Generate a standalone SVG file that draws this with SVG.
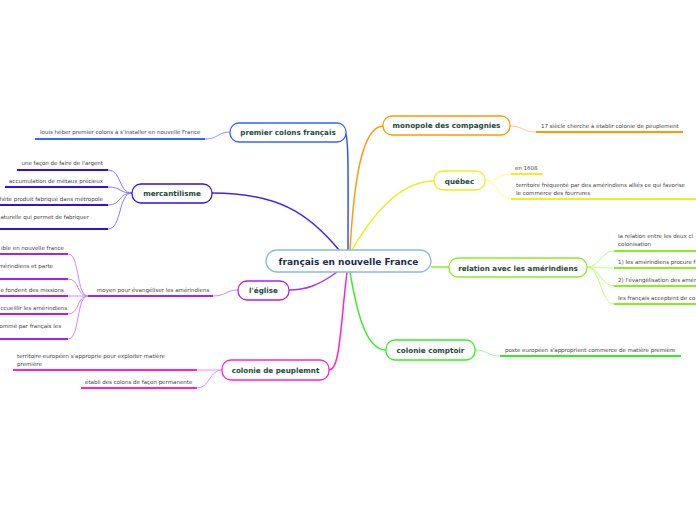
<svg xmlns="http://www.w3.org/2000/svg" width="696" height="520" viewBox="0 0 696 520">
<style>
.bg{fill:#ffffff}
.node rect{fill:#ffffff;stroke-width:1.3}
.node text{font-family:"DejaVu Sans",Verdana,sans-serif;font-weight:bold;font-size:7.2px;fill:#1d4a3e;text-anchor:middle}
.center text{font-size:9px;fill:#1c2c4c}
.leaf{font-family:"DejaVu Sans",Verdana,sans-serif;font-size:5.5px;fill:#444444}
.end{text-anchor:end}
.ul{stroke-width:2;fill:none}
.c{fill:none;stroke-width:1.5}
.lc{fill:none;stroke-width:1}
</style>
<rect class="bg" x="0" y="0" width="696" height="520"/>
<g id="connectors">
  <path class="c" stroke="#3355ee" d="M348,250 C348,180 349,136 345,132"/>
  <path class="c" stroke="#4422ee" d="M212,193 C280,193 310,215 339,250"/>
  <path class="c" stroke="#ff9911" d="M350,250 C354,180 362,127 383,126"/>
  <path class="c" stroke="#eeee22" d="M352,250 C382,198 410,181 434,181"/>
  <path class="c" stroke="#88ee22" d="M431,267 L449,267"/>
  <path class="c" stroke="#33ee22" d="M350,272 C358,320 368,350 386,350"/>
  <path class="c" stroke="#ff22cc" d="M347,272 C340,330 340,370 329,370"/>
  <path class="c" stroke="#aa33ee" d="M337,272 C318,286 305,290 289,290"/>
  <path class="lc" stroke="#8899ff" d="M230,132 C218,132 218,139 205,139"/>
  <path class="lc" stroke="#8877ff" d="M132,193 C118,193 122,170 108,170"/>
  <path class="lc" stroke="#8877ff" d="M132,193 C118,193 122,187 108,187"/>
  <path class="lc" stroke="#8877ff" d="M132,193 C118,193 122,205 108,205"/>
  <path class="lc" stroke="#8877ff" d="M132,193 C118,193 122,229 108,229"/>
  <path class="lc" stroke="#cc88ff" d="M238,290 C226,290 226,296 213,296"/>
  <path class="lc" stroke="#cc88ff" d="M88,296 C76,296 80,254 68,254"/>
  <path class="lc" stroke="#cc88ff" d="M88,296 C76,296 80,279 68,279"/>
  <path class="lc" stroke="#cc88ff" d="M88,296 C76,296 80,296 68,296"/>
  <path class="lc" stroke="#cc88ff" d="M88,296 C76,296 80,314 68,314"/>
  <path class="lc" stroke="#cc88ff" d="M88,296 C76,296 80,339 68,339"/>
  <path class="lc" stroke="#ff88ee" d="M222,370 L197,370"/>
  <path class="lc" stroke="#ff88ee" d="M222,370 C209,370 210,388 197,388"/>
  <path class="lc" stroke="#ffcc88" d="M510,126 C523,126 523,132 536,132"/>
  <path class="lc" stroke="#ffff77" d="M485,181 C498,181 498,174 511,174"/>
  <path class="lc" stroke="#ffff77" d="M485,181 C498,181 498,199 511,199"/>
  <path class="lc" stroke="#bbff77" d="M587,267 C600,267 601,251 614,251"/>
  <path class="lc" stroke="#bbff77" d="M587,267 C600,267 601,268 614,268"/>
  <path class="lc" stroke="#bbff77" d="M587,267 C600,267 601,286 614,286"/>
  <path class="lc" stroke="#bbff77" d="M587,267 C600,267 601,304 614,304"/>
  <path class="lc" stroke="#99ff99" d="M475,350 C488,350 487,356 500,356"/>
</g>
<g id="central" class="node center">
  <rect x="266" y="250" width="165" height="22" rx="11" stroke="#88bbe6"/>
  <text x="348.5" y="264.5">français en nouvelle France</text>
</g>
<g id="premier-colons" class="node">
  <rect x="230" y="123" width="116" height="19" rx="9" stroke="#3366ff"/>
  <text x="288" y="135">premier colons français</text>
</g>
<g id="leaf-louis">
  <path class="ul" stroke="#3366ff" d="M35,139 L205,139"/>
  <text class="leaf" x="40" y="134">louis héber premier colons à s'installer en nouvelle France</text>
</g>
<g id="mercantilisme" class="node">
  <rect x="132" y="184" width="80" height="19" rx="9" stroke="#3311dd"/>
  <text x="172" y="196">mercantilisme</text>
</g>
<g id="leaf-merc-1">
  <path class="ul" stroke="#3311dd" d="M17,170 L108,170"/>
  <text class="leaf end" x="103" y="165">une façon de faire de l'argent</text>
</g>
<g id="leaf-merc-2">
  <path class="ul" stroke="#3311dd" d="M5,187 L108,187"/>
  <text class="leaf end" x="103" y="183">accumulation de métaux précieux</text>
</g>
<g id="leaf-merc-3">
  <path class="ul" stroke="#3311dd" d="M0,205 L108,205"/>
  <text class="leaf end" x="103" y="201">hète produit fabriqué dans métropole</text>
</g>
<g id="leaf-merc-4">
  <path class="ul" stroke="#3311dd" d="M0,229 L108,229"/>
  <text class="leaf end" x="89" y="219">aturelle qui permet de fabriquer</text>
</g>
<g id="eglise" class="node">
  <rect x="238" y="281" width="51" height="19" rx="9" stroke="#aa22ee"/>
  <text x="263.5" y="293">l'église</text>
</g>
<g id="leaf-moyen">
  <path class="ul" stroke="#aa22ee" d="M88,296 L213,296"/>
  <text class="leaf" x="97" y="292">moyen pour évangéliser les amérindiens</text>
</g>
<g id="leaf-egl-1">
  <path class="ul" stroke="#aa22ee" d="M0,254 L68,254"/>
  <text class="leaf end" x="64" y="249.5">ible en nouvelle france</text>
</g>
<g id="leaf-egl-2">
  <path class="ul" stroke="#aa22ee" d="M0,279 L68,279"/>
  <text class="leaf end" x="53" y="268">mérindiens et parte</text>
</g>
<g id="leaf-egl-3">
  <path class="ul" stroke="#aa22ee" d="M0,296 L68,296"/>
  <text class="leaf end" x="64" y="292">e fondent des missions</text>
</g>
<g id="leaf-egl-4">
  <path class="ul" stroke="#aa22ee" d="M0,314 L68,314"/>
  <text class="leaf" x="0.5" y="310">ccueillir les amérindiens</text>
</g>
<g id="leaf-egl-5">
  <path class="ul" stroke="#aa22ee" d="M0,339 L68,339"/>
  <text class="leaf end" x="61" y="328">ommé par français les</text>
</g>
<g id="colonie-peuplement" class="node">
  <rect x="222" y="360" width="107" height="20" rx="9" stroke="#ff22cc"/>
  <text x="275.5" y="373">colonie de peuplemnt</text>
</g>
<g id="leaf-pe-1">
  <path class="ul" stroke="#ff22cc" d="M13,370 L197,370"/>
  <text class="leaf" x="17" y="358">territoire européen s'approprie pour exploiter matière</text>
  <text class="leaf" x="17" y="366">première</text>
</g>
<g id="leaf-pe-2">
  <path class="ul" stroke="#ff22cc" d="M81,388 L197,388"/>
  <text class="leaf" x="85" y="384">établi des colons de façon permanente</text>
</g>
<g id="monopole" class="node">
  <rect x="383" y="116" width="127" height="19" rx="9" stroke="#ff9900"/>
  <text x="446.5" y="128">monopole des compagnies</text>
</g>
<g id="leaf-mono">
  <path class="ul" stroke="#ff9900" d="M536,132 L683,132"/>
  <text class="leaf" x="541" y="128">17 siècle cherche à établir colonie de peuplement</text>
</g>
<g id="quebec" class="node">
  <rect x="434" y="171" width="51" height="19" rx="9" stroke="#eeee22"/>
  <text x="459.5" y="183.5">québec</text>
</g>
<g id="leaf-q-1">
  <path class="ul" stroke="#eeee22" d="M511,174 L543,174"/>
  <text class="leaf" x="515" y="170">en 1608</text>
</g>
<g id="leaf-q-2">
  <path class="ul" stroke="#eeee22" d="M511,199 L696,199"/>
  <text class="leaf" x="516" y="187">territoire fréquenté par des amérindiens alliés ce qui favorise</text>
  <text class="leaf" x="516" y="195">le commerce des fourrures</text>
</g>
<g id="relation" class="node">
  <rect x="449" y="258" width="138" height="19" rx="9" stroke="#88ee22"/>
  <text x="518" y="270.5">relation avec les amérindiens</text>
</g>
<g id="leaf-r-1">
  <path class="ul" stroke="#88ee22" d="M614,251 L696,251"/>
  <text class="leaf" x="618" y="238">la relation entre les deux cl</text>
  <text class="leaf" x="618" y="246">colonisation</text>
</g>
<g id="leaf-r-2">
  <path class="ul" stroke="#88ee22" d="M614,268 L696,268"/>
  <text class="leaf" x="618" y="264">1) les amérindiens procure f</text>
</g>
<g id="leaf-r-3">
  <path class="ul" stroke="#88ee22" d="M614,286 L696,286"/>
  <text class="leaf" x="618" y="282">2) l'évangélisation des amér</text>
</g>
<g id="leaf-r-4">
  <path class="ul" stroke="#88ee22" d="M614,304 L696,304"/>
  <text class="leaf" x="618" y="300">les français acceptent de co</text>
</g>
<g id="colonie-comptoir" class="node">
  <rect x="386" y="340" width="89" height="20" rx="9" stroke="#33ee22"/>
  <text x="430.5" y="353">colonie comptoir</text>
</g>
<g id="leaf-comptoir">
  <path class="ul" stroke="#33ee22" d="M500,356 L681,356"/>
  <text class="leaf" x="505" y="352">poste européen s'approprient commerce de matière première</text>
</g>
</svg>
